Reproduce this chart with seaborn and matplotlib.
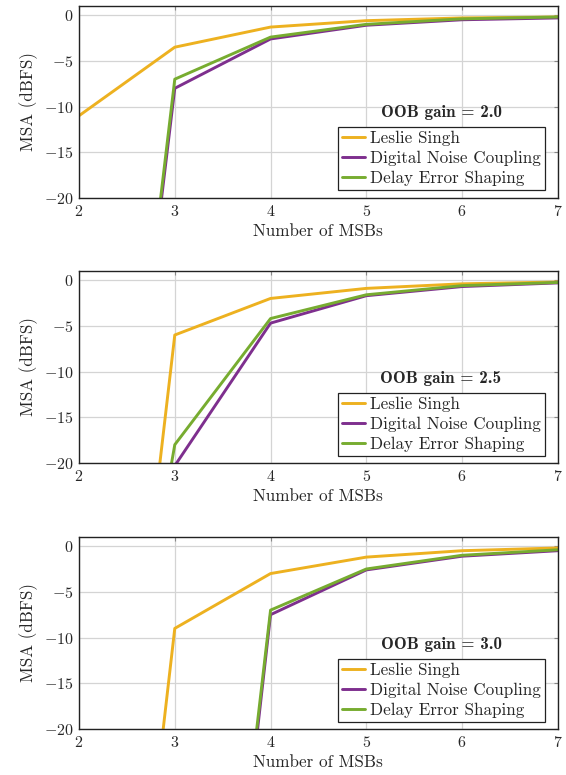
import numpy as np
import pandas as pd
import matplotlib
matplotlib.use('Agg')
import matplotlib.pyplot as plt
import seaborn as sns

# number of MSBs on the x axis
msbs = [2, 3, 4, 5, 6, 7]
methods = ['Leslie Singh', 'Digital Noise Coupling', 'Delay Error Shaping']
gains = ['2.0', '2.5', '3.0']

# MSA (dBFS), values far below -20 are off-chart
leslie_20 = [-11.0, -3.5, -1.3, -0.6, -0.3, -0.2]
dnc_20 = [-95.0, -8.0, -2.6, -1.1, -0.5, -0.3]
des_20 = [-95.0, -7.0, -2.4, -1.0, -0.4, -0.2]

leslie_25 = [-96.0, -6.0, -2.0, -0.9, -0.4, -0.2]
dnc_25 = [-100.0, -20.3, -4.7, -1.7, -0.7, -0.3]
des_25 = [-78.0, -18.0, -4.2, -1.6, -0.6, -0.25]

leslie_30 = [-100.0, -9.0, -3.0, -1.2, -0.5, -0.2]
dnc_30 = [-150.0, -100.0, -7.5, -2.6, -1.1, -0.5]
des_30 = [-150.0, -97.0, -7.0, -2.5, -1.0, -0.4]

series = {
    '2.0': [leslie_20, dnc_20, des_20],
    '2.5': [leslie_25, dnc_25, des_25],
    '3.0': [leslie_30, dnc_30, des_30],
}

colors = ['#EDB120', '#7E2F8E', '#77AC30']

sns.set_style('whitegrid')
plt.rcParams['font.family'] = ['cmr10', 'DejaVu Serif']
plt.rcParams['mathtext.fontset'] = 'cm'
plt.rcParams['axes.formatter.use_mathtext'] = True
plt.rcParams['axes.unicode_minus'] = True

fig = plt.figure(figsize=(5.66, 7.75), dpi=100)

bottoms = [0.7445, 0.4026, 0.0594]
title_y = [0.443, 0.4375, 0.4375]
leg_y = [0.042, 0.036, 0.036]

for i, g in enumerate(gains):
    ax = fig.add_axes([0.1396, bottoms[i], 0.846, 0.2477])
    rows = []
    for m, vals in zip(methods, series[g]):
        for x, v in zip(msbs, vals):
            rows.append({'msb': x, 'msa': v, 'method': m})
    df = pd.DataFrame(rows)
    sns.lineplot(data=df, x='msb', y='msa', hue='method', hue_order=methods,
                 palette=colors, linewidth=2.1, ax=ax, sort=False)
    ax.set_xlim(2, 7)
    ax.set_ylim(-20, 1)
    ax.set_xticks(msbs)
    ax.set_yticks([0, -5, -10, -15, -20])
    ax.set_xlabel('Number of MSBs', fontsize=12.3, labelpad=4)
    ax.set_ylabel('MSA (dBFS)', fontsize=12.3, labelpad=4)
    ax.tick_params(labelsize=11.5, direction='in', length=3, color='#888888',
                   top=True, right=True, pad=4)
    ax.grid(True, color='#d4d4d4', linewidth=0.9)
    for s in ax.spines.values():
        s.set_color('#222222')
        s.set_linewidth(1.0)
    ax.text(0.756, title_y[i], 'OOB gain = ' + g, transform=ax.transAxes,
            ha='center', va='center', fontsize=12.3, fontweight='bold',
            family=['cmb10', 'DejaVu Serif'])
    leg = ax.legend(loc='lower right', bbox_to_anchor=(0.973, leg_y[i]),
                    borderaxespad=0, fontsize=12.3, handlelength=1.3,
                    handletextpad=0.3, labelspacing=0.26, borderpad=0.25,
                    fancybox=False, framealpha=1)
    leg.get_frame().set_edgecolor('#222222')
    leg.get_frame().set_linewidth(0.9)

fig.savefig('out.png', dpi=100)
